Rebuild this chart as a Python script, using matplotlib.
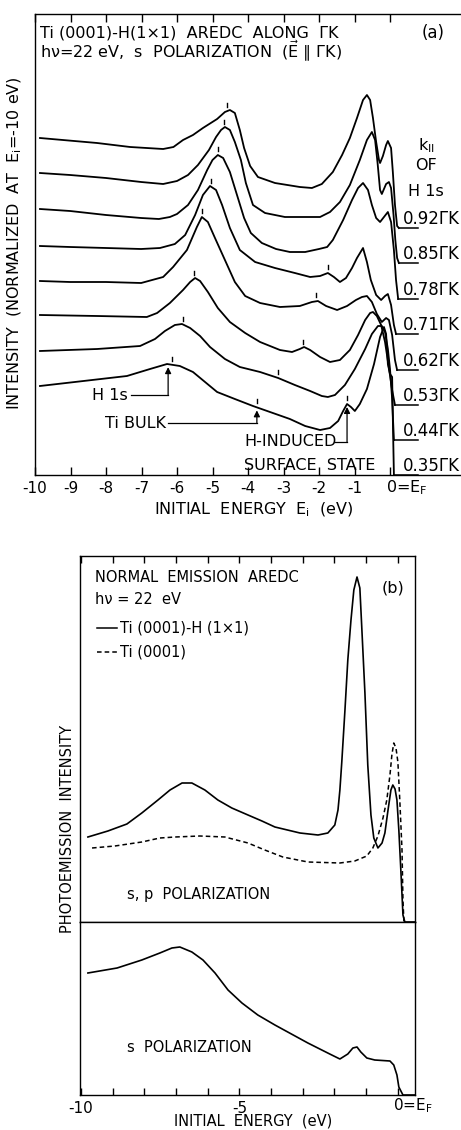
import numpy as np
import matplotlib.pyplot as plt

plt.rcParams['font.family'] = ['DejaVu Sans']
plt.rcParams['mathtext.default'] = 'regular'

# ---- panel (a): AREDC along Gamma-K, one spectrum per k_parallel of H 1s ----
k_labels = ['0.35', '0.44', '0.53', '0.62', '0.71', '0.78', '0.85', '0.92']
offsets = [0, 35, 70, 105, 141, 176, 212, 247]

e_035 = [-9.86, -7.41, -6.76, -6.28, -5.92, -5.55, -5.21, -4.87, -4.37, -3.86,
         -3.38, -2.82, -2.39, -1.97, -1.69, -1.46, -1.32, -1.21, -1.10, -0.99,
         -0.85, -0.65, -0.45, -0.28, -0.17, -0.11, -0.06, 0.00, 0.06, 0.08, 0.11]
i_035 = [89, 99, 106, 111, 109, 103, 93, 83, 76, 69,
         63, 56, 49, 45, 47, 54, 64, 71, 68, 64,
         71, 86, 111, 138, 148, 141, 111, 101, 98, 56, 0]

e_044 = [-9.86, -8.25, -7.04, -6.62, -6.34, -6.06, -5.86, -5.63, -5.35, -5.07,
         -4.65, -4.23, -3.66, -3.15, -2.68, -2.25, -1.92, -1.75, -1.55, -1.27,
         -0.99, -0.70, -0.51, -0.34, -0.23, -0.14, -0.06, 0.00, 0.06, 0.11]
i_044 = [89, 91, 94, 101, 109, 115, 116, 112, 104, 93,
         81, 73, 68, 62, 55, 49, 44, 43, 45, 55,
         71, 91, 106, 114, 114, 108, 91, 71, 41, 0]

e_053 = [-9.86, -8.25, -6.85, -6.56, -6.20, -5.83, -5.63, -5.49, -5.35, -5.13,
         -4.85, -4.51, -4.08, -3.66, -3.10, -2.76, -2.54, -2.42, -2.25, -1.97,
         -1.69, -1.41, -1.13, -0.90, -0.70, -0.56, -0.48, -0.37, -0.25, -0.14,
         -0.03, 0.06, 0.14]
i_053 = [90, 89, 88, 92, 102, 115, 123, 127, 124, 113,
         97, 83, 72, 63, 55, 53, 56, 58, 55, 48,
         43, 45, 55, 70, 85, 92, 93, 89, 80, 63,
         37, 15, 0]

e_062 = [-9.86, -9.01, -8.00, -7.01, -6.39, -6.11, -5.72, -5.44, -5.30, -5.13,
         -4.93, -4.65, -4.37, -4.08, -3.66, -3.10, -2.54, -2.20, -2.03, -1.80,
         -1.49, -1.21, -0.96, -0.79, -0.65, -0.51, -0.37, -0.23, -0.11, -0.03,
         0.06, 0.14, 0.20]
i_062 = [89, 88, 88, 87, 93, 103, 120, 143, 153, 148,
         132, 110, 88, 74, 67, 63, 64, 68, 69, 64,
         60, 64, 70, 73, 74, 68, 56, 48, 52, 50,
         35, 10, 0]

e_071 = [-9.86, -9.01, -8.00, -7.01, -6.48, -6.06, -5.77, -5.49, -5.27, -5.07,
         -4.90, -4.73, -4.51, -4.23, -3.80, -3.24, -2.68, -2.25, -1.97, -1.75,
         -1.58, -1.41, -1.24, -1.07, -0.93, -0.76, -0.65, -0.54, -0.39, -0.25,
         -0.14, -0.06, 0.03, 0.11, 0.17]
i_071 = [88, 87, 86, 85, 86, 90, 99, 119, 139, 148,
         144, 129, 106, 84, 72, 66, 61, 57, 58, 61,
         57, 52, 56, 66, 76, 86, 72, 54, 39, 34,
         38, 40, 29, 9, 0]

e_078 = [-9.86, -9.01, -8.00, -7.01, -6.51, -6.20, -6.00, -5.69, -5.41, -5.15,
         -5.00, -4.85, -4.70, -4.51, -4.31, -4.11, -3.92, -3.61, -3.21, -2.82,
         -2.39, -2.00, -1.77, -1.61, -1.32, -1.07, -0.90, -0.76, -0.62, -0.51,
         -0.39, -0.28, -0.17, -0.06, 0.03, 0.11, 0.17, 0.23]
i_078 = [90, 88, 84, 81, 80, 82, 85, 94, 109, 129,
         139, 144, 141, 127, 104, 81, 66, 56, 50, 47,
         47, 50, 52, 59, 79, 99, 111, 116, 109, 94,
         81, 77, 82, 87, 77, 49, 19, 0]

e_085 = [-9.86, -9.01, -8.00, -7.01, -6.39, -6.00, -5.69, -5.41, -5.10, -4.90,
         -4.76, -4.65, -4.51, -4.37, -4.20, -4.06, -3.86, -3.52, -2.96, -1.97,
         -1.69, -1.41, -1.13, -0.85, -0.65, -0.51, -0.42, -0.35, -0.28, -0.23,
         -0.11, -0.03, 0.03, 0.10, 0.15, 0.20, 0.25]
i_085 = [90, 88, 85, 81, 79, 82, 88, 98, 113, 126,
         133, 136, 133, 121, 103, 80, 58, 50, 46, 46,
         51, 61, 78, 103, 123, 131, 123, 100, 73, 69,
         79, 81, 75, 48, 23, 5, 0]

e_092 = [-9.86, -8.25, -7.32, -6.39, -6.10, -5.83, -5.55, -5.27, -4.87, -4.65,
         -4.51, -4.37, -4.23, -4.11, -3.94, -3.72, -3.24, -2.54, -2.20, -1.92,
         -1.61, -1.35, -1.13, -0.93, -0.76, -0.65, -0.56, -0.48, -0.39, -0.31,
         -0.28, -0.20, -0.11, -0.06, 0.03, 0.08, 0.14, 0.20, 0.25]
i_092 = [90, 85, 81, 79, 81, 88, 93, 100, 109, 116,
         118, 115, 98, 80, 62, 51, 45, 41, 40, 44,
         56, 73, 90, 110, 128, 133, 128, 110, 86, 68,
         65, 72, 83, 87, 80, 56, 23, 2, 0]

curves_e = [e_035, e_044, e_053, e_062, e_071, e_078, e_085, e_092]
curves_i = [i_035, i_044, i_053, i_062, i_071, i_078, i_085, i_092]

# feature marks: H 1s peak on every curve, Ti bulk on the lower five, surface state
h1s_pos = [-6.14, -5.83, -5.52, -5.30, -5.04, -4.85, -4.68, -4.59]
bulk_pos = [-3.75, -3.15, -2.45, -2.08, -1.75]
ss_pos = -1.21

# ---- panel (b): normal emission ----
eb_h = [-9.78, -9.15, -8.55, -8.08, -7.57, -7.19, -6.81, -6.50, -6.09, -5.68,
        -5.24, -4.73, -4.29, -3.88, -3.09, -2.52, -2.21, -1.99, -1.89, -1.83,
        -1.77, -1.67, -1.58, -1.48, -1.39, -1.29, -1.20, -1.14, -1.04, -0.95,
        -0.85, -0.76, -0.63, -0.50, -0.41, -0.32, -0.22, -0.16, -0.09, -0.03,
        0.03, 0.09, 0.16, 0.22, 0.54]
ib_h = [85, 91, 98, 109, 122, 132, 139, 139, 132, 122,
        114, 107, 101, 95, 89, 87, 89, 97, 112, 132,
        160, 212, 262, 302, 332, 345, 334, 295, 229, 157,
        107, 84, 74, 79, 89, 110, 132, 137, 133, 122,
        92, 54, 7, 0, 0]

eb_clean = [-9.65, -8.93, -8.08, -7.51, -7.03, -6.25, -5.46, -4.73, -4.20, -3.63,
            -2.84, -1.83, -1.36, -0.98, -0.79, -0.63, -0.47, -0.35, -0.25, -0.19,
            -0.13, -0.06, 0.00, 0.06, 0.13, 0.16, 0.19]
ib_clean = [74, 76, 80, 84, 85, 86, 85, 79, 72, 65,
            60, 59, 61, 66, 74, 86, 104, 122, 147, 167,
            179, 174, 160, 122, 72, 22, 0]

eb_s = [-9.78, -8.86, -8.08, -7.51, -7.13, -6.88, -6.50, -6.15, -5.77, -5.36,
        -4.92, -4.42, -3.88, -2.84, -2.15, -1.83, -1.58, -1.42, -1.29, -1.17,
        -0.98, -0.73, -0.25, -0.13, -0.03, 0.03, 0.16, 0.54]
ib_s = [122, 127, 135, 142, 147, 148, 143, 135, 122, 105,
        92, 80, 70, 52, 41, 36, 41, 47, 48, 43,
        37, 35, 34, 30, 20, 8, 0, 0]

W, H = 461, 1130
fig = plt.figure(figsize=(W / 100, H / 100), dpi=100)
fa = 11.5   # lettering of panel (a)
fb = 10.5   # lettering of panel (b)

# ================= panel (a) =================
ax = fig.add_axes([35 / W, 1 - 475 / H, 426 / W, 461 / H])
ax.set_xlim(-10, 2.0)
ax.set_ylim(0, 461)
ax.spines['right'].set_visible(False)
for s in ax.spines.values():
    s.set_linewidth(1.0)
ax.set_xticks(range(-10, 1))
ax.set_xticklabels([str(v) for v in range(-10, 0)] + [''], fontsize=11)
ax.tick_params(axis='x', direction='in', length=6, width=1, top=True, pad=4)
ax.set_yticks([])
ax.text(-0.12, -0.028, '0=E$_F$', transform=ax.get_xaxis_transform(),
        ha='left', va='center', fontsize=11.5)

for k in range(8):
    e = np.array(curves_e[k])
    y = np.array(curves_i[k]) + offsets[k]
    ax.plot(e, y, color='k', lw=1.3, solid_joinstyle='round')
    # label underline and label
    ax.plot([e[-1], 0.8], [offsets[k], offsets[k]], color='k', lw=1.1)
    ax.text(0.36, offsets[k] + 9, k_labels[k] + 'ΓK', ha='left', va='center',
            fontsize=12)
    # H 1s tick
    yh = np.interp(h1s_pos[k], e, y)
    ax.plot([h1s_pos[k]] * 2, [yh + 4, yh + 8], color='k', lw=1.0)

for k, ep in enumerate(bulk_pos):
    e = np.array(curves_e[k])
    y = np.array(curves_i[k]) + offsets[k]
    yb = np.interp(ep, e, y)
    ax.plot([ep] * 2, [yb + 4, yb + 8], color='k', lw=1.0)
yb = np.interp(ss_pos, e_035, i_035)
ax.plot([ss_pos] * 2, [yb + 4, yb + 8], color='k', lw=1.0)

ax.text(1.02, 329, 'k$_{II}$', ha='center', va='center', fontsize=fa)
ax.text(1.0, 310, 'OF', ha='center', va='center', fontsize=fa)
ax.text(1.02, 283, 'H 1s', ha='center', va='center', fontsize=fa)

arr = dict(arrowstyle='-|>', color='k', lw=0.9, mutation_scale=9,
           shrinkA=0, shrinkB=0)
# H 1s arrow
y_tip = np.interp(-6.25, e_035, i_035) - 3
ax.plot([-7.30, -6.25], [80, 80], color='k', lw=0.9)
ax.annotate('', xy=(-6.25, y_tip), xytext=(-6.25, 80), arrowprops=arr)
ax.text(-7.40, 80, 'H 1s', ha='right', va='center', fontsize=fa)
# Ti bulk arrow
y_tip = np.interp(bulk_pos[0], e_035, i_035) - 3
ax.plot([-6.25, bulk_pos[0]], [52, 52], color='k', lw=0.9)
ax.annotate('', xy=(bulk_pos[0], y_tip), xytext=(bulk_pos[0], 52), arrowprops=arr)
ax.text(-6.32, 52, 'Ti BULK', ha='right', va='center', fontsize=fa)
# surface state arrow
y_tip = np.interp(ss_pos, e_035, i_035) - 3
ax.plot([-1.55, ss_pos], [33, 33], color='k', lw=0.9)
ax.annotate('', xy=(ss_pos, y_tip), xytext=(ss_pos, 33), arrowprops=arr)
ax.text(-4.1, 33, 'H-INDUCED', ha='left', va='center', fontsize=fa)
ax.text(-4.1, 10, 'SURFACE  STATE', ha='left', va='center', fontsize=fa)

ax.text(0.012, 0.959, 'Ti (0001)-H(1×1)  AREDC  ALONG  ΓK',
        transform=ax.transAxes, ha='left', va='center', fontsize=fa)
ax.text(0.012, 0.920, 'hν=22 eV,  s  POLARIZATION  ($\\vec{E}$ ∥ ΓK)',
        transform=ax.transAxes, ha='left', va='center', fontsize=fa)
ax.text(0.934, 0.959, '(a)', transform=ax.transAxes, ha='center', va='center',
        fontsize=12)

fig.text(15 / W, 1 - 243 / H, 'INTENSITY  (NORMALIZED  AT  E$_i$=-10 eV)',
         rotation=90, ha='center', va='center', fontsize=fa)
fig.text(254 / W, 1 - 510 / H, 'INITIAL  ENERGY  E$_i$  (eV)',
         ha='center', va='center', fontsize=fa)

# ================= panel (b) =================
xl = (-10.03, 0.54)
ax1 = fig.add_axes([80 / W, 1 - 922 / H, 335 / W, 366 / H])
ax2 = fig.add_axes([80 / W, 1 - 1095 / H, 335 / W, 173 / H])
for a in (ax1, ax2):
    a.set_xlim(*xl)
    a.set_yticks([])
    for s in a.spines.values():
        s.set_linewidth(1.0)
    a.set_xticks(range(-10, 1))
ax1.set_ylim(0, 366)
ax2.set_ylim(0, 173)
ax1.tick_params(axis='x', direction='in', length=5, width=1, top=True,
                bottom=False, labelbottom=False)
ax2.tick_params(axis='x', direction='in', length=5, width=1, top=False, pad=4)
ax2.set_xticklabels(['-10', '', '', '', '', '-5', '', '', '', '', ''], fontsize=11)
ax2.text(-0.16, -0.06, '0=E$_F$', transform=ax2.get_xaxis_transform(),
         ha='left', va='center', fontsize=11)

ax1.plot(eb_h, ib_h, color='k', lw=1.2, solid_joinstyle='round')
ax1.plot(eb_clean, ib_clean, color='k', lw=1.1, dashes=(3, 2))
ax2.plot(eb_s, ib_s, color='k', lw=1.2, solid_joinstyle='round')

ax1.text(-9.56, 344, 'NORMAL  EMISSION  AREDC', ha='left', va='center', fontsize=fb)
ax1.text(-9.56, 322, 'hν = 22  eV', ha='left', va='center', fontsize=fb)
ax1.plot([-9.50, -8.85], [294, 294], color='k', lw=1.1)
ax1.text(-8.78, 294, 'Ti (0001)-H (1×1)', ha='left', va='center', fontsize=fb)
ax1.plot([-9.50, -8.85], [270, 270], color='k', lw=1.1, dashes=(3, 2))
ax1.text(-8.78, 270, 'Ti (0001)', ha='left', va='center', fontsize=fb)
ax1.text(-0.16, 334, '(b)', ha='center', va='center', fontsize=11.5)
ax1.text(-8.55, 27, 's, p  POLARIZATION', ha='left', va='center', fontsize=fb)
ax2.text(-8.55, 47, 's  POLARIZATION', ha='left', va='center', fontsize=fb)

fig.text(68 / W, 1 - 829 / H, 'PHOTOEMISSION  INTENSITY', rotation=90,
         ha='center', va='center', fontsize=fb)
fig.text(253 / W, 1 - 1121 / H, 'INITIAL  ENERGY  (eV)', ha='center',
         va='center', fontsize=fb)

fig.savefig('out.png', dpi=100)
